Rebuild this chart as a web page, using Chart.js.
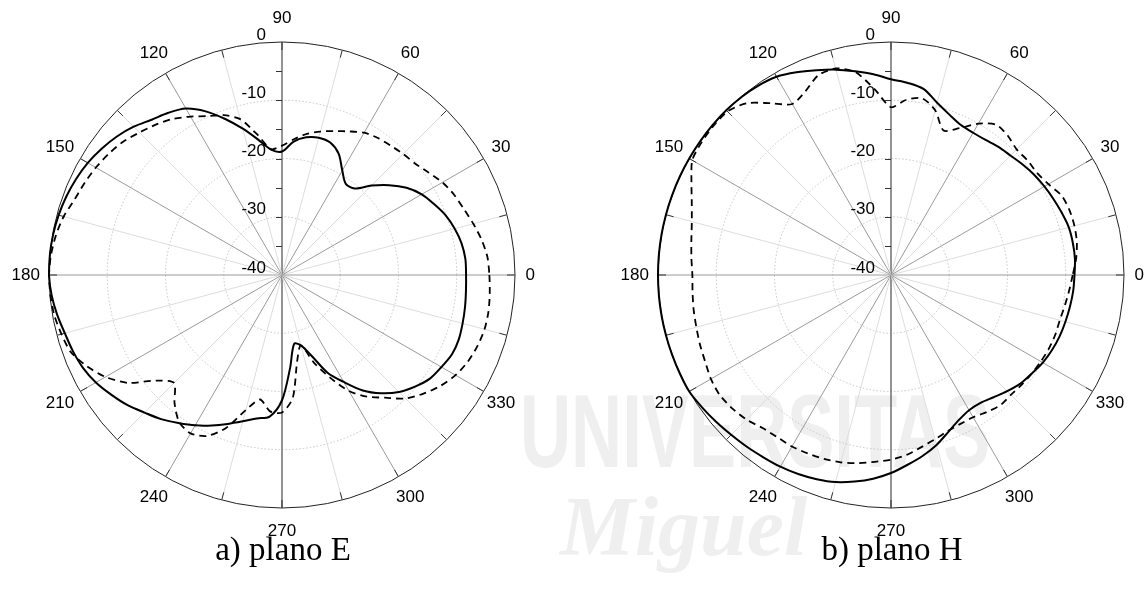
<!DOCTYPE html>
<html><head><meta charset="utf-8">
<script src="https://cdn.jsdelivr.net/npm/chart.js@4.4.0/dist/chart.umd.min.js"></script>
<style>
html,body{margin:0;padding:0;background:#fff;width:1146px;height:596px;overflow:hidden;}
body{position:relative;}
canvas{position:absolute;top:0;}
.wm{position:absolute;color:#efefef;white-space:nowrap;}
.wm1{left:520px;top:372px;font:bold 104px "Liberation Sans",Arial,sans-serif;transform-origin:0 0;transform:scaleX(0.68);}
.wm2{left:560px;top:478px;font:italic bold 84px "Liberation Serif","Times New Roman",serif;}
.title{position:absolute;top:533px;width:300px;text-align:center;font-family:"Liberation Serif","Times New Roman",serif;font-size:33px;line-height:33px;color:#000;}
</style></head>
<body>
<div class="wm wm1">UNIVERSITAS</div>
<div class="wm wm2">Miguel</div>
<canvas id="cE" width="573" height="596" style="left:0"></canvas>
<canvas id="cH" width="573" height="596" style="left:573px"></canvas>
<div class="title" style="left:133px">a) plano E</div>
<div class="title" style="left:742px">b) plano H</div>
<script>
// angle categories (degrees, counter-clockwise from 0 at the right)
const angles = [0,5,10,15,20,25,30,35,40,45,50,55,60,65,70,75,80,85,90,95,100,105,110,115,120,125,130,135,140,145,150,155,160,165,170,175,
  180,185,190,195,200,205,210,215,220,225,230,235,240,245,250,255,260,265,270,275,280,285,290,295,300,305,310,315,320,325,330,335,340,345,350,355];
// radial tick labels (dB) and minor axis ticks
const radialLabels = [0,-10,-20,-30,-40];
const radialMarks = [-5,-10,-15,-20,-25,-30,-35];
const angleLabels = [0,30,60,90,120,150,180,210,240,270,300,330];

// a) plano E
const eSolid = [-8.4,-8.4,-8.7,-9.3,-10.1,-11.2,-12.3,-13.9,-16.0,-18.3,-20.6,-20.9,-19.3,-17.0,-15.8,-15.6,-16.0,-17.0,
  -18.8,-18.4,-16.4,-14.0,-11.5,-9.0,-7.0,-6.0,-5.2,-4.0,-3.0,-2.2,-1.5,-1.0,-0.6,-0.3,-0.1,0,
  0,-0.3,-0.8,-1.4,-1.8,-2.3,-3.1,-4.2,-5.3,-6.6,-7.7,-9.0,-10.2,-11.5,-12.8,-14.0,-15.0,-15.6,
  -18.5,-24.0,-28.0,-27.5,-25.3,-21.5,-18.8,-15.8,-13.5,-11.6,-10.2,-9.0,-8.4,-7.8,-7.7,-7.9,-8.1,-8.3];
const eDash = [-4.4,-4.6,-5.2,-6.0,-6.8,-7.4,-8.2,-9.3,-10.2,-10.6,-11.0,-11.3,-11.8,-12.8,-13.7,-14.5,-15.4,-16.6,
  -17.8,-18.3,-15.5,-12.3,-10.8,-9.9,-8.6,-7.3,-6.3,-5.4,-4.4,-3.7,-3.1,-2.6,-2.1,-1.2,-0.6,-0.2,
  0,-0.1,-0.3,-0.8,-1.4,-3.0,-5.0,-7.7,-11.8,-13.8,-11.3,-9.2,-8.6,-9.5,-12.1,-16.0,-18.3,-16.5,
  -16.4,-18.8,-25.0,-27.5,-24.0,-20.6,-17.0,-14.5,-12.5,-10.0,-8.3,-6.8,-5.6,-4.8,-4.3,-4.0,-4.0,-4.2];
// b) plano H
const hSolid = [-8.5,-8.3,-8.3,-8.4,-8.8,-9.2,-9.6,-10.0,-10.5,-11.0,-11.3,-11.7,-11.8,-11.6,-10.7,-9.4,-7.6,-6.9,
  -6.4,-5.4,-4.5,-3.5,-2.6,-1.6,-0.7,-0.3,-0.1,0,0,0,0,0,0,0,0,0,
  0,0,0,0,0,0,0,-0.4,-0.8,-1.2,-1.5,-1.8,-2.0,-2.3,-2.7,-3.2,-4.0,-4.9,
  -6.0,-7.3,-8.5,-9.8,-11.3,-12.5,-13.2,-13.2,-12.6,-11.8,-11.0,-10.5,-9.9,-9.5,-9.2,-9.0,-8.8,-8.6];
const hDash = [-8.8,-8.1,-7.6,-7.4,-7.4,-7.7,-8.8,-9.4,-9.4,-9.5,-8.8,-8.5,-10.0,-12.2,-13.6,-10.7,-9.2,-9.8,
  -11.2,-8.0,-4.6,-3.3,-3.5,-5.2,-6.1,-4.0,-1.5,-0.3,-0.2,-0.3,-0.6,-2.2,-3.6,-4.6,-5.2,-5.6,
  -5.9,-5.8,-5.6,-5.4,-5.1,-4.8,-4.3,-4.1,-4.4,-4.9,-5.7,-6.0,-6.0,-6.2,-6.4,-6.7,-7.2,-7.8,
  -8.3,-9.0,-10.0,-10.8,-11.5,-11.8,-11.8,-11.3,-10.8,-10.9,-10.7,-10.5,-10.3,-10.1,-10.0,-10.0,-9.7,-9.3];

// Chart.js radar runs clockwise; reorder so angles run counter-clockwise
const N = angles.length;
const order = angles.map((_, i) => (N - i) % N);
const reorder = arr => order.map(k => arr[k]);
const thetaAt = i => angles[order[i]];
const idx90 = order.findIndex(k => angles[k] === 90);

const FONT = '17px "Liberation Sans", Arial, sans-serif';

const decor = {
  id: 'decor',
  beforeDatasetsDraw(chart) {
    const s = chart.scales.r, ctx = chart.ctx;
    const R = s.drawingArea;
    ctx.save();
    ctx.strokeStyle = '#333'; ctx.lineWidth = 1;
    ctx.beginPath();
    for (let i = 0; i < N; i++) {
      if (thetaAt(i) % 15) continue;
      const a = s.getPointPosition(i, R), b = s.getPointPosition(i, R - 8);
      ctx.moveTo(a.x, a.y); ctx.lineTo(b.x, b.y);
    }
    for (const v of radialMarks) {
      const p = s.getPointPosition(idx90, s.getDistanceFromCenterForValue(v));
      ctx.moveTo(p.x - 6, Math.round(p.y) + 0.5); ctx.lineTo(p.x, Math.round(p.y) + 0.5);
    }
    ctx.stroke();
    ctx.font = FONT; ctx.fillStyle = '#000'; ctx.textBaseline = 'middle';
    ctx.textAlign = 'right';
    for (const v of radialLabels) {
      const p = s.getPointPosition(idx90, s.getDistanceFromCenterForValue(v));
      ctx.fillText(String(v), p.x - 16, p.y - 7);
    }
    ctx.textAlign = 'center';
    for (let i = 0; i < N; i++) {
      const th = thetaAt(i);
      if (!angleLabels.includes(th)) continue;
      const p = s.getPointPosition(i, R * 1.1);
      const shift = th === 0 ? -8 : (th === 30 || th === 330) ? -3 : 0;
      ctx.fillText(String(th), p.x + shift, p.y);
    }
    ctx.restore();
  }
};

function makeChart(id, solid, dashed, pad) {
  return new Chart(document.getElementById(id), {
    type: 'radar',
    data: {
      labels: order.map(k => String(angles[k])),
      datasets: [
        { data: reorder(solid), borderColor: '#000', borderWidth: 2, pointRadius: 0, fill: false, tension: 0.3 },
        { data: reorder(dashed), borderColor: '#000', borderWidth: 1.8, borderDash: [7, 5], pointRadius: 0, fill: false, tension: 0.25 }
      ]
    },
    options: {
      responsive: false, animation: false, events: [],
      layout: { padding: pad },
      plugins: { legend: { display: false }, tooltip: { enabled: false } },
      scales: {
        r: {
          min: -40, max: 0, startAngle: 90,
          ticks: { display: false, stepSize: 10 },
          pointLabels: { display: false },
          grid: {
            circular: true,
            color: c => (c.tick && c.tick.value === 0) ? '#222' : '#c4c4c4',
            lineWidth: 1
          },
          border: { dash: c => (c.tick && c.tick.value === 0) ? [] : [1.5, 2] },
          angleLines: {
            color: c => {
              const th = thetaAt(c.index);
              if (th === 90 || th === 270) return '#666';
              if (th % 30 === 0) return '#9a9a9a';
              if (th % 15 === 0) return '#dddddd';
              return 'rgba(0,0,0,0)';
            },
            lineWidth: c => {
              const th = thetaAt(c.index);
              if (th === 90 || th === 270) return 1.4;
              return (th % 15 === 0) ? 1 : 0;
            }
          }
        }
      }
    },
    plugins: [decor]
  });
}

makeChart('cE', eSolid, eDash, { left: 49, top: 42, right: 57, bottom: 87 });
makeChart('cH', hSolid, hDash, { left: 85, top: 42, right: 21, bottom: 87 });
</script>
</body></html>
